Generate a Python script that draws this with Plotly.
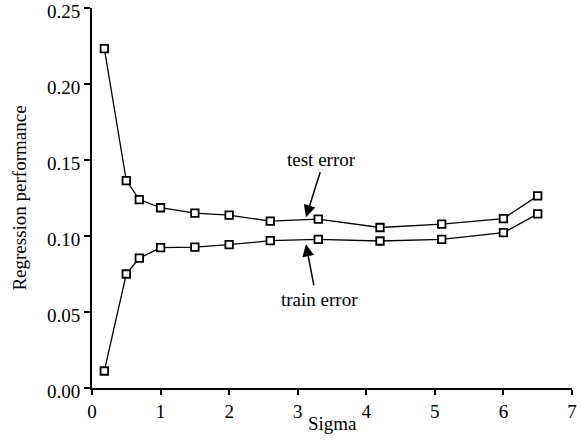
import plotly.graph_objects as go

sigma = [0.18, 0.5, 0.69, 1.0, 1.5, 2.0, 2.6, 3.3, 4.2, 5.1, 6.0, 6.5]
test_error = [0.2233, 0.1365, 0.124, 0.1186, 0.115, 0.1137, 0.1098, 0.1111, 0.1056, 0.1078, 0.1115, 0.1264]
train_error = [0.0112, 0.075, 0.0855, 0.0923, 0.0927, 0.0943, 0.0969, 0.0978, 0.0967, 0.0978, 0.1022, 0.1146]
x_ticks = [0, 1, 2, 3, 4, 5, 6, 7]
y_ticks = [0, 0.05, 0.10, 0.15, 0.20, 0.25]
y_ticktext = ["0.00", "0.05", "0.10", "0.15", "0.20", "0.25"]

FONT = "Liberation Serif"
FS = 19

fig = go.Figure()
for name, vals in [("test error", test_error), ("train error", train_error)]:
    fig.add_trace(go.Scatter(
        x=sigma, y=vals, mode="lines+markers", name=name,
        line=dict(color="black", width=1.3),
        marker=dict(symbol="square", size=7.5, color="white",
                    line=dict(color="black", width=1.8)),
        showlegend=False, cliponaxis=False,
    ))

# labels
fig.add_annotation(x=3.35, y=0.1506, text="test error", showarrow=False,
                   font=dict(family=FONT, size=FS, color="black"))
fig.add_annotation(x=3.315, y=0.0584, text="train error", showarrow=False,
                   font=dict(family=FONT, size=FS, color="black"))
# arrows
fig.add_annotation(x=3.12, y=0.1124, ax=3.335, ay=0.143, axref="x", ayref="y",
                   xref="x", yref="y", text="", showarrow=True,
                   arrowhead=2, arrowsize=1.6, arrowwidth=1.5, arrowcolor="black")
fig.add_annotation(x=3.12, y=0.0945, ax=3.24, ay=0.0665, axref="x", ayref="y",
                   xref="x", yref="y", text="", showarrow=True,
                   arrowhead=2, arrowsize=1.6, arrowwidth=1.5, arrowcolor="black")
# x-axis title
fig.add_annotation(x=0.5, y=0, xref="paper", yref="paper", yanchor="middle",
                   yshift=-35, text="Sigma", showarrow=False,
                   font=dict(family=FONT, size=FS, color="black"))

fig.update_layout(
    width=584, height=446,
    margin=dict(l=92, r=12, t=8, b=58, autoexpand=False),
    plot_bgcolor="white", paper_bgcolor="white",
    font=dict(family=FONT, size=FS, color="black"),
)
fig.update_xaxes(
    range=[0, 7.0001], tickvals=x_ticks,
    showline=True, linecolor="black", linewidth=2,
    ticks="outside", ticklen=5, tickwidth=2, tickcolor="black",
    showgrid=False, zeroline=False, automargin=False,
    ticklabeloverflow="allow",
    tickfont=dict(size=FS),
)
fig.update_yaxes(
    range=[0, 0.25001], tickvals=y_ticks, ticktext=y_ticktext,
    showline=True, linecolor="black", linewidth=2,
    ticks="outside", ticklen=6, tickwidth=2, tickcolor="black",
    showgrid=False, zeroline=False, automargin=False,
    ticklabeloverflow="allow", ticklabelshift=3,
    title=dict(text="Regression performance", font=dict(size=FS)),
    tickfont=dict(size=FS),
)

fig.write_html("out.html", config={"displayModeBar": False},
               post_script="document.body.style.margin='0';")
